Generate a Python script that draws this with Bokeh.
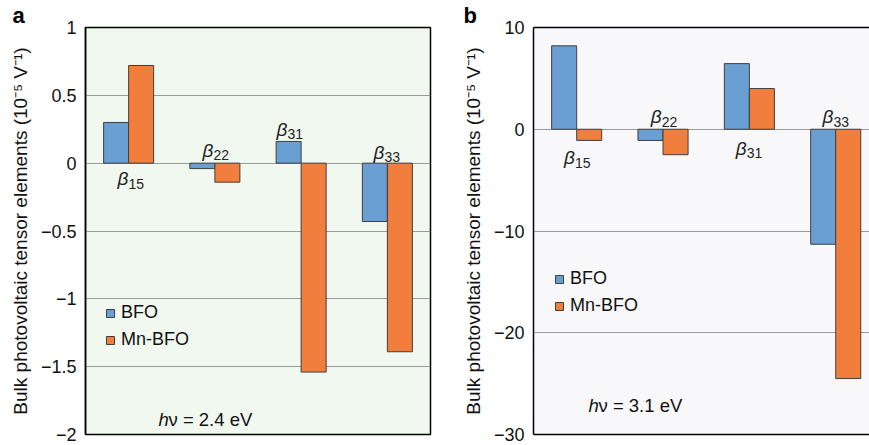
from bokeh.plotting import figure
from bokeh.layouts import row
from bokeh.models import (FixedTicker, LinearAxis, Legend, LegendItem, Range1d,
                          Label, ColumnDataSource, Title)
from bokeh.core.properties import value
from bokeh.embed import file_html
from bokeh.resources import INLINE

# ---------------- data ----------------
elements = ["15", "22", "31", "33"]
series = ["BFO", "Mn-BFO"]
bfo_a = [0.30, -0.04, 0.16, -0.43]
mn_a = [0.72, -0.14, -1.54, -1.39]
bfo_b = [8.2, -1.1, 6.45, -11.3]
mn_b = [-1.1, -2.5, 4.0, -24.5]
ticks_a = [-2, -1.5, -1, -0.5, 0, 0.5, 1]
tick_labels_a = ["\u22122", "\u22121.5", "\u22121", "\u22120.5", "0", "0.5", "1"]
ticks_b = [-30, -20, -10, 0, 10]
tick_labels_b = ["\u221230", "\u221220", "\u221210", "0", "10"]
energy_a = "2.4 eV"
energy_b = "3.1 eV"
ylabel = "Bulk photovoltaic tensor elements (10\u207b\u2075 V\u207b\u00b9)"

# ---------------- styling / layout ----------------
FONT = "Liberation Sans"
BLUE = "#6a9fd4"
ORANGE = "#f27e3e"
EDGE = "#3f3f3f"
BAR_W = 0.29
# label placement (offset from group centre, y in data units)
lab_off_a = [-0.13, -0.143, -0.286, -0.161]
lab_y_a = [-0.115, 0.095, 0.25, 0.08]
lab_off_b = [-0.146, -0.142, -0.157, -0.153]
lab_y_b = [-2.8, 1.25, -1.85, 1.25]


def make_panel(bfo, mn, ticks, tick_labels, yr, xr_end, width, height,
               mb_left, mb_right, mb_top, mb_bottom, bg, lab_off, lab_y,
               letter, letter_off, energy, energy_pos, legend_pos, outline):
    p = figure(width=width, height=height, output_backend="svg",
               toolbar_location=None, x_range=Range1d(0, xr_end),
               y_range=Range1d(*yr), min_border_left=mb_left,
               min_border_right=mb_right, min_border_top=mb_top,
               min_border_bottom=mb_bottom, background_fill_color=bg,
               border_fill_color="white",
               title=Title(text=letter, align="left", offset=letter_off,
                           standoff=0, text_font=FONT, text_font_style="bold",
                           text_font_size="22px", text_color="black",
                           text_line_height=0.55))
    centers = [i + 0.5 for i in range(len(elements))]
    src = ColumnDataSource(dict(
        xb=[c - BAR_W / 2 for c in centers],
        xm=[c + BAR_W / 2 for c in centers],
        bfo=bfo, mn=mn))
    rb = p.vbar(x="xb", top="bfo", bottom=0, width=BAR_W, source=src,
                fill_color=BLUE, line_color=EDGE, line_width=1)
    rm = p.vbar(x="xm", top="mn", bottom=0, width=BAR_W, source=src,
                fill_color=ORANGE, line_color=EDGE, line_width=1)

    # beta labels
    lsrc = ColumnDataSource(dict(
        x=[c + o for c, o in zip(centers, lab_off)], y=lab_y,
        beta=["\u03b2"] * len(elements), sub=elements))
    p.text(x="x", y="y", text="beta", source=lsrc, text_font=value(FONT),
           text_font_style="italic", text_font_size="19px",
           text_baseline="middle", text_align="left", text_color="#222222")
    p.text(x="x", y="y", text="sub", source=lsrc, text_font=value(FONT),
           text_font_size="14px", text_baseline="middle", text_align="left",
           x_offset=11, y_offset=5, text_color="#222222")

    # axes
    p.xaxis.visible = False
    p.yaxis.ticker = FixedTicker(ticks=ticks)
    p.yaxis.major_label_overrides = {t: l for t, l in zip(ticks, tick_labels)}
    p.yaxis.major_tick_line_color = None
    p.yaxis.minor_tick_line_color = None
    p.yaxis.major_tick_out = 0
    p.yaxis.major_label_standoff = 9
    p.yaxis.major_label_text_font = FONT
    p.yaxis.major_label_text_font_size = "18px"
    p.yaxis.major_label_text_color = "#111111"
    p.yaxis.axis_label = ylabel
    p.yaxis.axis_label_text_font = FONT
    p.yaxis.axis_label_text_font_style = "normal"
    p.yaxis.axis_label_text_font_size = "19px"
    p.yaxis.axis_label_text_color = "#111111"
    p.yaxis.axis_label_standoff = 7
    p.yaxis.axis_line_color = "black"
    p.yaxis.axis_line_width = 1.5

    p.xgrid.visible = False
    p.ygrid.ticker = FixedTicker(ticks=ticks)
    p.ygrid.grid_line_color = "#9b9b9b"
    p.ygrid.grid_line_width = 1

    if outline:
        p.outline_line_color = "black"
        p.outline_line_width = 1.5
    else:
        p.outline_line_color = None
        for loc in ("above", "below"):
            ax = LinearAxis(ticker=FixedTicker(ticks=[]),
                            major_tick_line_color=None,
                            minor_tick_line_color=None,
                            major_label_standoff=0, major_tick_out=0,
                            axis_line_color="black", axis_line_width=1.5)
            p.add_layout(ax, loc)

    # legend
    leg = Legend(items=[LegendItem(label=series[0], renderers=[rb]),
                        LegendItem(label=series[1], renderers=[rm])],
                 location=legend_pos, background_fill_alpha=0,
                 border_line_color=None, padding=0, margin=0,
                 glyph_width=10, glyph_height=10, label_standoff=6,
                 label_height=20, spacing=6,
                 label_text_font=FONT, label_text_font_size="18px",
                 label_text_color="#111111")
    p.add_layout(leg, "center")

    # h nu label
    p.add_layout(Label(x=energy_pos[0], y=energy_pos[1], x_units="screen",
                       y_units="screen", text="h", text_font=FONT,
                       text_font_style="italic", text_font_size="18.5px",
                       text_baseline="alphabetic", text_color="#111111"))
    p.add_layout(Label(x=energy_pos[0] + 10, y=energy_pos[1], x_units="screen",
                       y_units="screen", text="\u03bd = " + energy,
                       text_font=FONT, text_font_size="18.5px",
                       text_baseline="alphabetic", text_color="#111111"))
    return p


pa = make_panel(bfo_a, mn_a, ticks_a, tick_labels_a, (-2, 1), 4.0,
                440, 445, 85, 10, 24, 11, "#f1f8ef", lab_off_a, lab_y_a,
                "a", -73, energy_a, (73, 15), (20, 84), True)
pb = make_panel(bfo_b, mn_b, ticks_b, tick_labels_b, (-30, 10), 336 / 86.35,
                429, 445, 93, 0, 25, 6, "#f8f8fb", lab_off_b, lab_y_b,
                "b", -70, energy_b, (55, 29), (21, 118), False)

layout = row(pa, pb, spacing=0)
open("out.html", "w").write(file_html(layout, INLINE))
